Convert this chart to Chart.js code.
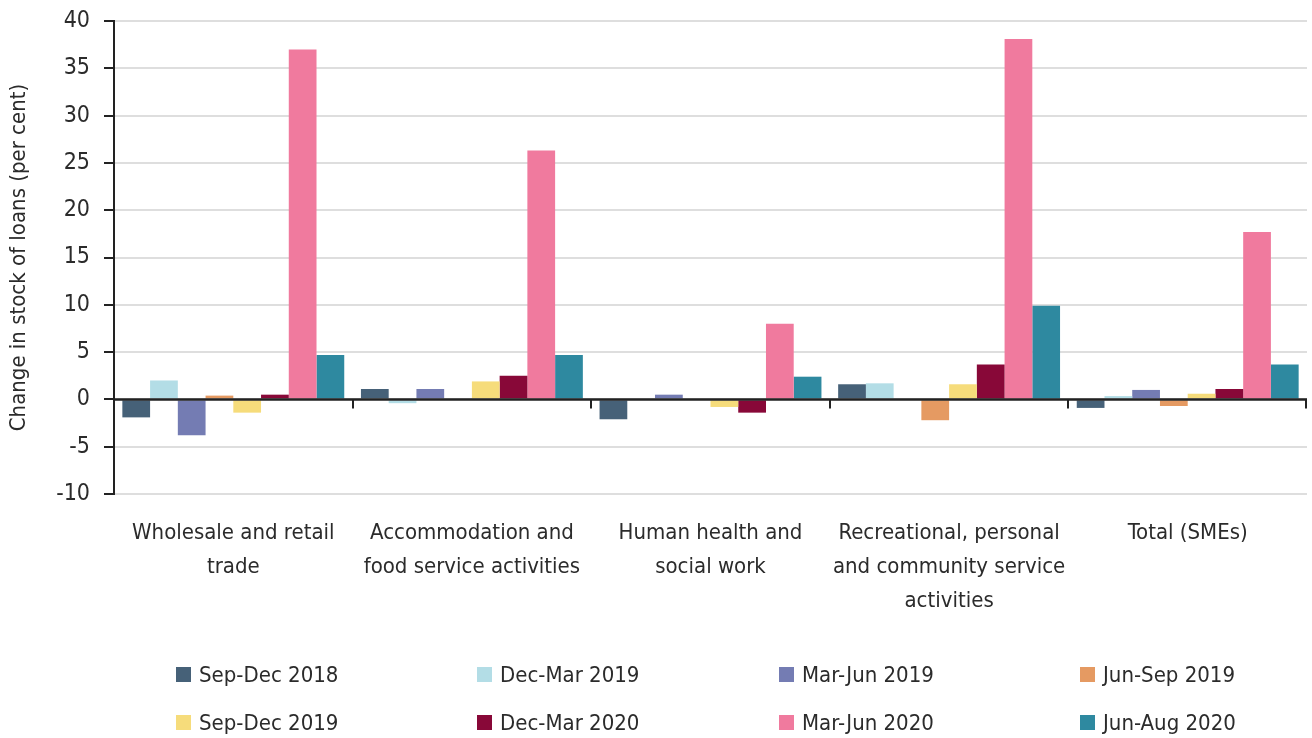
<!DOCTYPE html>
<html>
<head>
<meta charset="utf-8">
<script src="https://cdn.jsdelivr.net/npm/chart.js@4"></script>
<style>
  html, body { margin: 0; padding: 0; background: #fff; }
  #wrap { position: relative; width: 1312px; height: 738px; }
  #legend { position: absolute; left: 0; top: 0; width: 1312px; height: 738px; pointer-events: none;
    font-family: "DejaVu Sans Condensed", sans-serif; font-size: 22px; color: #2b2b2b; }
  .li { position: absolute; display: flex; align-items: center; white-space: nowrap; }
  .li span.box { width: 15px; height: 15px; margin-right: 8px; display: inline-block; }
</style>
</head>
<body>
<div id="wrap">
  <canvas id="c" width="1312" height="738"></canvas>
  <div id="legend"></div>
</div>
<script>
const categories = [
  ["Wholesale and retail", "trade"],
  ["Accommodation and", "food service activities"],
  ["Human health and", "social work"],
  ["Recreational, personal", "and community service", "activities"],
  ["Total (SMEs)"]
];
const seriesNames = ["Sep-Dec 2018", "Dec-Mar 2019", "Mar-Jun 2019", "Jun-Sep 2019",
                     "Sep-Dec 2019", "Dec-Mar 2020", "Mar-Jun 2020", "Jun-Aug 2020"];
const sepDec2018 = [-1.9, 1.1, -2.1, 1.6, -0.9];
const decMar2019 = [2.0, -0.4, 0.0, 1.7, 0.35];
const marJun2019 = [-3.8, 1.1, 0.5, 0.0, 1.0];
const junSep2019 = [0.4, 0.0, 0.0, -2.2, -0.7];
const sepDec2019 = [-1.4, 1.9, -0.8, 1.6, 0.6];
const decMar2020 = [0.5, 2.5, -1.4, 3.7, 1.1];
const marJun2020 = [37.0, 26.3, 8.0, 38.1, 17.7];
const junAug2020 = [4.7, 4.7, 2.4, 9.9, 3.7];
const yTicks = { min: -10, max: 40, step: 5 };

const seriesValues = [sepDec2018, decMar2019, marJun2019, junSep2019, sepDec2019, decMar2020, marJun2020, junAug2020];
const colors = ["#466178", "#b3dde6", "#747cb3", "#e59a62", "#f6dc7b", "#880838", "#f07a9e", "#2e89a0"];

const FONT = '"DejaVu Sans Condensed", sans-serif';
const TEXT = '#2b2b2b';

const zeroLine = {
  id: 'zeroLine',
  afterDatasetsDraw(chart) {
    const { ctx, chartArea, scales } = chart;
    const y0 = scales.y.getPixelForValue(0);
    ctx.save();
    ctx.strokeStyle = '#222';
    ctx.lineWidth = 2.5;
    ctx.beginPath();
    ctx.moveTo(chartArea.left, y0);
    ctx.lineTo(chartArea.right, y0);
    ctx.stroke();
    const n = chart.data.labels.length;
    const w = (chartArea.right - chartArea.left) / n;
    ctx.lineWidth = 2;
    for (let i = 0; i <= n; i++) {
      const x = Math.round(chartArea.left + i * w) - (i === n ? 1 : 0);
      ctx.beginPath();
      ctx.moveTo(x, y0);
      ctx.lineTo(x, y0 + 9);
      ctx.stroke();
    }
    ctx.restore();
  }
};

const chart = new Chart(document.getElementById('c'), {
  type: 'bar',
  data: {
    labels: categories,
    datasets: seriesNames.map((name, i) => ({
      label: name,
      data: seriesValues[i],
      backgroundColor: colors[i],
      borderWidth: 0
    }))
  },
  options: {
    responsive: false,
    animation: false,
    layout: { padding: { top: 21, right: 5, left: 0, bottom: 0 } },
    datasets: { bar: { categoryPercentage: 0.93, barPercentage: 1.0 } },
    plugins: { legend: { display: false }, tooltip: { enabled: false } },
    scales: {
      x: {
        grid: { display: false },
        border: { display: false },
        ticks: { color: TEXT, font: { family: FONT, size: 22, lineHeight: 1.55 }, padding: 14, maxRotation: 0, autoSkip: false },
        afterFit(s) { s.height = 244; }
      },
      y: {
        min: yTicks.min, max: yTicks.max,
        ticks: { stepSize: yTicks.step, color: TEXT, font: { family: FONT, size: 23 }, padding: 14 },
        grid: { color: '#dedede', lineWidth: 2, tickLength: 10, tickColor: '#222', tickWidth: 2 },
        border: { display: true, color: '#222', width: 2 },
        title: { display: true, text: 'Change in stock of loans (per cent)', color: TEXT,
                 font: { family: FONT, size: 22 }, padding: { top: 6, bottom: 0 } },
        afterFit(s) { s.width = 114; s.paddingTop = 0; s.paddingBottom = 0; }
      }
    }
  },
  plugins: [zeroLine]
});

// legend
const legendPos = [
  [176, 674], [477, 674], [779, 674], [1080, 674],
  [176, 722], [477, 722], [779, 722], [1080, 722]
];
const lg = document.getElementById('legend');
chart.data.datasets.forEach((ds, i) => {
  const d = document.createElement('div');
  d.className = 'li';
  d.style.left = legendPos[i][0] + 'px';
  d.style.top = (legendPos[i][1] - 14) + 'px';
  d.style.height = '28px';
  const b = document.createElement('span');
  b.className = 'box';
  b.style.background = ds.backgroundColor;
  d.appendChild(b);
  d.appendChild(document.createTextNode(ds.label));
  lg.appendChild(d);
});
</script>
</body>
</html>
